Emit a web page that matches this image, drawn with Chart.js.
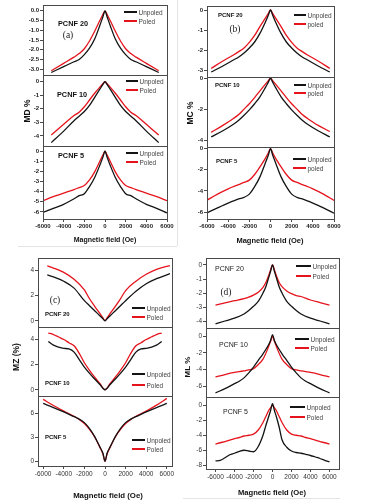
<!DOCTYPE html>
<html><head><meta charset="utf-8">
<script src="https://cdn.jsdelivr.net/npm/chart.js@4.4.0/dist/chart.umd.min.js"></script>
<style>
html,body{margin:0;padding:0;background:#fff;}
#root{position:relative;width:366px;height:504px;overflow:hidden;background:#fff;font-family:'Liberation Sans',Arial,sans-serif;}
.t{position:absolute;white-space:nowrap;line-height:1;}
.ln{position:absolute;}
canvas{position:absolute;}
</style></head><body><div id="root"></div>
<script>
// ---------- DATA ----------
const xTicks = [-6000,-4000,-2000,0,2000,4000,6000];

// Panel (a) MD %
const xA12 = [-5200,-4000,-3000,-2500,-2000,-1500,-1000,-500,-200,0,200,500,1000,1500,2000,2500,3000,4000,5200];
const a20Unpoled = [-3.17,-2.87,-2.62,-2.5,-2.25,-1.92,-1.45,-0.75,-0.3,0,-0.3,-0.75,-1.45,-1.92,-2.25,-2.5,-2.62,-2.87,-3.17];
const a20Poled   = [-3.08,-2.7,-2.38,-2.2,-1.95,-1.55,-1.05,-0.5,-0.18,0,-0.18,-0.5,-1.05,-1.55,-1.95,-2.2,-2.38,-2.7,-3.08];
const a10Unpoled = [-4.5,-3.65,-2.88,-2.55,-2.2,-1.75,-1.15,-0.55,-0.2,0,-0.2,-0.55,-1.15,-1.75,-2.2,-2.55,-2.88,-3.65,-4.5];
const a10Poled   = [-3.93,-3.15,-2.5,-2.25,-1.85,-1.35,-0.85,-0.4,-0.15,0,-0.15,-0.4,-0.85,-1.35,-1.85,-2.25,-2.5,-3.15,-3.93];
const xA3 = [-6000,-5000,-4000,-3000,-2500,-2000,-1500,-1000,-500,-200,0,200,500,1000,1500,2000,2500,3000,4000,5000,6000];
const a5Unpoled = [-6.05,-5.65,-5.25,-4.7,-4.4,-4.2,-3.5,-2.6,-1.4,-0.6,0,-0.6,-1.4,-2.6,-3.5,-4.2,-4.4,-4.7,-5.25,-5.65,-6.1];
const a5Poled   = [-4.9,-4.5,-4.15,-3.8,-3.6,-3.4,-2.85,-2.05,-1.0,-0.4,0,-0.4,-1.0,-2.05,-2.85,-3.4,-3.6,-3.8,-4.15,-4.5,-4.9];

// Panel (b) MC %
const xB12 = [-5600,-4500,-3500,-3000,-2500,-2000,-1500,-1000,-500,-200,0,200,500,1000,1500,2000,2500,3000,3500,4500,5600];
const b20Unpoled = [-3.1,-2.8,-2.5,-2.35,-2.15,-1.9,-1.6,-1.17,-0.62,-0.25,0,-0.25,-0.62,-1.17,-1.6,-1.9,-2.15,-2.35,-2.5,-2.8,-3.1];
const b20Poled   = [-2.92,-2.55,-2.25,-2.08,-1.9,-1.62,-1.27,-0.83,-0.42,-0.17,0,-0.17,-0.42,-0.83,-1.27,-1.62,-1.9,-2.08,-2.25,-2.55,-2.92];
const b10Unpoled = [-3.79,-3.4,-2.98,-2.72,-2.4,-2.05,-1.65,-1.2,-0.62,-0.25,0,-0.25,-0.62,-1.2,-1.65,-2.05,-2.4,-2.72,-2.98,-3.4,-3.79];
const b10Poled   = [-3.5,-3.05,-2.6,-2.35,-2.0,-1.65,-1.25,-0.82,-0.4,-0.16,0,-0.16,-0.4,-0.82,-1.25,-1.65,-2.0,-2.35,-2.6,-3.05,-3.45];
const xB3 = [-6000,-5000,-4000,-3000,-2500,-2000,-1500,-1000,-500,-200,0,200,500,1000,1500,2000,2500,3000,4000,5000,6000];
const b5Unpoled = [-6.07,-5.6,-5.15,-4.75,-4.6,-4.3,-3.6,-2.67,-1.4,-0.6,0,-0.6,-1.4,-2.67,-3.6,-4.3,-4.6,-4.75,-5.15,-5.6,-6.1];
const b5Poled   = [-4.87,-4.3,-3.8,-3.4,-3.2,-2.98,-2.45,-1.73,-0.95,-0.4,0,-0.4,-0.95,-1.73,-2.45,-2.98,-3.2,-3.4,-3.8,-4.3,-4.9];

// Panel (c) MZ (%)
const xC1 = [-5600,-5000,-4000,-3000,-2000,-1500,-1000,-500,-200,0,200,500,1000,1500,2000,3000,4000,5000,6300];
const c20Unpoled = [3.65,3.5,3.15,2.6,1.6,1.2,0.8,0.4,0.15,0,0.15,0.4,0.8,1.2,1.6,2.35,2.95,3.35,3.75];
const c20Poled   = [4.37,4.2,3.85,3.3,2.45,1.75,1.15,0.58,0.23,0,0.23,0.58,1.15,1.75,2.4,3.15,3.7,4.1,4.4];
const xC2 = [-5500,-5000,-4500,-4000,-3500,-3000,-2500,-2000,-1500,-1000,-500,0,500,1000,1500,2000,2500,3000,3500,4000,4500,5000,5500];
const c10Unpoled = [3.85,3.55,3.4,3.3,3.25,3.0,2.4,1.8,1.3,0.85,0.42,0,0.42,0.85,1.3,1.8,2.4,3.0,3.25,3.3,3.4,3.55,3.85];
const c10Poled   = [4.52,4.4,4.2,4.0,3.75,3.5,2.9,2.15,1.55,1.0,0.5,0,0.5,1.0,1.55,2.15,2.9,3.5,3.75,4.0,4.2,4.4,4.52];
const xC3 = [-6000,-5000,-4000,-3000,-2500,-2000,-1500,-1000,-500,-200,0,200,500,1000,1500,2000,2500,3000,4000,5000,6000];
const c5Unpoled = [7.26,6.75,6.2,5.6,5.3,4.85,4.1,3.1,1.8,1.0,0,1.0,1.8,3.1,4.1,4.85,5.3,5.6,6.2,6.75,7.26];
const c5Poled   = [7.77,7.0,6.3,5.65,5.25,4.75,4.0,3.05,1.75,0.9,0,0.9,1.75,3.05,4.0,4.75,5.25,5.65,6.3,7.05,7.9];

// Panel (d) ML %
const xD1 = [-6000,-5000,-4000,-3000,-2500,-2000,-1500,-1000,-700,-400,-200,0,200,400,700,1000,1500,2000,2500,3000,4000,5000,6000];
const d20Unpoled = [-4.21,-4.0,-3.8,-3.5,-3.25,-2.95,-2.6,-2.0,-1.55,-0.9,-0.45,0,-0.45,-0.9,-1.55,-2.0,-2.6,-2.95,-3.25,-3.5,-3.8,-4.0,-4.21];
const d20Poled   = [-2.86,-2.7,-2.55,-2.4,-2.3,-2.15,-1.95,-1.6,-1.25,-0.75,-0.35,0,-0.35,-0.75,-1.25,-1.55,-1.85,-2.05,-2.18,-2.25,-2.5,-2.68,-2.86];
const xD2 = [-6000,-5000,-4000,-3500,-3000,-2500,-2000,-1500,-1000,-500,-200,0,200,500,1000,1500,2000,2500,3000,3500,4000,5000,6000];
const d10Unpoled = [-6.8,-6.3,-5.7,-5.4,-5.0,-4.4,-3.7,-2.9,-2.1,-1.2,-0.5,0.2,-0.5,-1.2,-2.1,-2.9,-3.7,-4.4,-5.0,-5.4,-5.7,-6.3,-6.8];
const d10Poled   = [-4.88,-4.6,-4.35,-4.25,-4.15,-4.05,-3.9,-3.4,-2.75,-1.5,-0.6,0,-0.6,-1.5,-2.75,-3.4,-3.9,-4.05,-4.15,-4.25,-4.35,-4.6,-4.88];
const xD3 = [-6000,-5500,-5000,-4500,-4000,-3500,-3000,-2500,-2000,-1500,-1000,-700,-400,-200,0,200,400,700,1000,1500,2000,2500,3000,3500,4000,4500,5000,5500,6000];
const d5Unpoled = [-7.43,-7.35,-7.0,-6.6,-6.4,-6.15,-6.0,-6.1,-6.2,-5.5,-4.0,-2.7,-1.5,-0.7,0.2,-0.7,-1.5,-2.9,-4.6,-5.6,-6.1,-6.3,-6.4,-6.55,-6.7,-6.9,-7.1,-7.35,-7.56];
const d5Poled   = [-5.18,-5.0,-4.85,-4.65,-4.45,-4.3,-4.1,-4.0,-3.85,-3.3,-2.3,-1.5,-0.7,-0.35,0,-0.35,-0.7,-1.5,-2.3,-3.3,-3.85,-4.0,-4.1,-4.3,-4.45,-4.65,-4.85,-5.0,-5.18];

// y tick labels
const yTicksA1 = [0,-0.5,-1,-1.5,-2,-2.5,-3];
const yTicksA2 = [0,-1,-2,-3,-4];
const yTicksA3 = [0,-1,-2,-3,-4,-5,-6];
const yTicksB1 = [0,-1,-2,-3];
const yTicksB2 = [0,-2,-4];
const yTicksB3 = [0,-2,-4,-6];
const yTicksC12 = [0,2,4];
const yTicksC3 = [0,3,6];
const yTicksD1 = [0,-1,-2,-3,-4];
const yTicksD2 = [0,-2,-4,-6];
const yTicksD3 = [0,-2,-4,-6,-8];

const sampleNames = ['PCNF 20','PCNF 10','PCNF 5'];
const seriesNames = ['Unpoled','Poled'];

// ---------- LAYOUT ----------
const root = document.getElementById('root');
const FONT = "'Liberation Sans', Arial, sans-serif";
const BLACK = '#141414', RED = '#e5141c';

function txt(x,y,s,font,anchor,color,rot){
  const d=document.createElement('div'); d.className='t'; d.textContent=s;
  d.style.font=font; d.style.color=color||'#222';
  d.style.left=x+'px'; d.style.top=y+'px';
  const tx = anchor==='c'?'-50%':anchor==='r'?'-100%':'0';
  d.style.transform='translate('+tx+',-50%)'+(rot?' rotate('+rot+'deg)':'');
  root.appendChild(d);
}
function hline(x1,x2,y,color,th){
  const d=document.createElement('div'); d.className='ln';
  d.style.left=x1+'px'; d.style.top=(y-th/2)+'px'; d.style.width=(x2-x1)+'px'; d.style.height=th+'px'; d.style.background=color;
  root.appendChild(d);
}
function vline(x,y1,y2,color){
  const d=document.createElement('div'); d.className='ln';
  d.style.left=x+'px'; d.style.top=y1+'px'; d.style.width='1px'; d.style.height=(y2-y1)+'px'; d.style.background=color;
  root.appendChild(d);
}

const frameP = {id:'frame', afterDatasetsDraw(c){
  const a=c.chartArea, x=c.ctx; x.save(); x.strokeStyle='#4a4a4a'; x.lineWidth=1;
  x.strokeRect(Math.round(a.left)+0.5, Math.round(a.top)+0.5, Math.round(a.right-a.left), Math.round(a.bottom-a.top));
  x.restore();
}};

function sub(p){
  const YW=32, PT=8, PR=14, PB=p.bottom?0:8, XH=p.bottom?14:0;
  const w=YW+(p.R-p.L)+PR, h=PT+(p.B-p.T)+XH+PB;
  const cv=document.createElement('canvas'); cv.width=w; cv.height=h;
  cv.style.left=(p.L-YW)+'px'; cv.style.top=(p.T-PT)+'px'; cv.style.width=w+'px'; cv.style.height=h+'px';
  root.appendChild(cv);
  const tf = {family:'Liberation Sans', size:p.tsize, weight:p.tweight};
  const mk=(ys)=>p.x.map((x,i)=>({x:x,y:ys[i]}));
  new Chart(cv,{type:'line',
    data:{datasets:[
      {label:seriesNames[0],data:mk(p.u),borderColor:BLACK,borderWidth:1.3,pointRadius:0,fill:false,cubicInterpolationMode:'monotone'},
      {label:seriesNames[1],data:mk(p.pl),borderColor:RED,borderWidth:1.3,pointRadius:0,fill:false,cubicInterpolationMode:'monotone'}]},
    options:{responsive:false,animation:false,devicePixelRatio:1,
      layout:{padding:{top:PT,right:PR,bottom:PB,left:0}},
      plugins:{legend:{display:false},tooltip:{enabled:false}},
      scales:{
        x:{type:'linear',min:p.xmin,max:p.xmax,display:!!p.bottom,
           afterFit:s=>{s.height=XH;},
           afterBuildTicks:s=>{s.ticks=xTicks.map(v=>({value:v}));},
           ticks:{font:tf,color:p.tcolor,padding:1,maxRotation:0,autoSkip:false,callback:v=>String(v)},
           grid:{drawOnChartArea:false,drawTicks:true,tickLength:3,color:'#4a4a4a'},border:{display:false}},
        y:{type:'linear',min:p.ymin,max:p.ymax,
           afterFit:s=>{s.width=YW;},
           afterBuildTicks:s=>{s.ticks=p.yt.map(v=>({value:v}));},
           ticks:{font:tf,color:p.tcolor,padding:1,autoSkip:false,callback:v=>p.dec?Number(v).toFixed(1):String(v)},
           grid:{drawOnChartArea:false,drawTicks:true,tickLength:3,color:'#4a4a4a'},border:{display:false}}
      }},
    plugins:[frameP]});
}

// faint panel borders
vline(177,0,246,'#e4e4e4'); hline(18,177,246,'#e4e4e4',1);
hline(183,340,498,'#e4e4e4',1);

const AB = {tsize:6,tweight:'bold',tcolor:'#222'};
const CD = {tsize:6.5,tweight:'normal',tcolor:'#333'};
// Panel a
sub(Object.assign({L:43,R:167,T:5,B:75,xmin:-6000,xmax:6000,ymin:-3.3,ymax:0.3,yt:yTicksA1,dec:true,x:xA12,u:a20Unpoled,pl:a20Poled},AB));
sub(Object.assign({L:43,R:167,T:75,B:146,xmin:-6000,xmax:6000,ymin:-4.75,ymax:0.5,yt:yTicksA2,x:xA12,u:a10Unpoled,pl:a10Poled},AB));
sub(Object.assign({L:43,R:167,T:146,B:219,xmin:-6000,xmax:6000,ymin:-6.7,ymax:0.5,yt:yTicksA3,x:xA3,u:a5Unpoled,pl:a5Poled,bottom:true},AB));
// Panel b
sub(Object.assign({L:207,R:334,T:6,B:77,xmin:-6000,xmax:6000,ymin:-3.35,ymax:0.2,yt:yTicksB1,x:xB12,u:b20Unpoled,pl:b20Poled},AB));
sub(Object.assign({L:207,R:334,T:77,B:147,xmin:-6000,xmax:6000,ymin:-4.45,ymax:0.08,yt:yTicksB2,x:xB12,u:b10Unpoled,pl:b10Poled},AB));
sub(Object.assign({L:207,R:334,T:147,B:219,xmin:-6000,xmax:6000,ymin:-6.65,ymax:0.15,yt:yTicksB3,x:xB3,u:b5Unpoled,pl:b5Poled,bottom:true},AB));
// Panel c
sub(Object.assign({L:38,R:172,T:258,B:327,xmin:-6500,xmax:6500,ymin:-0.5,ymax:5,yt:yTicksC12,x:xC1,u:c20Unpoled,pl:c20Poled},CD));
sub(Object.assign({L:38,R:172,T:327,B:396,xmin:-6500,xmax:6500,ymin:-0.5,ymax:5,yt:yTicksC12,x:xC2,u:c10Unpoled,pl:c10Poled},CD));
sub(Object.assign({L:38,R:172,T:396,B:466,xmin:-6500,xmax:6500,ymin:-0.6,ymax:8.2,yt:yTicksC3,x:xC3,u:c5Unpoled,pl:c5Poled,bottom:true},CD));
// Panel d
sub(Object.assign({L:206,R:339,T:258,B:328,xmin:-7000,xmax:7000,ymin:-4.5,ymax:0.5,yt:yTicksD1,x:xD1,u:d20Unpoled,pl:d20Poled},CD));
sub(Object.assign({L:206,R:339,T:328,B:397,xmin:-7000,xmax:7000,ymin:-7.3,ymax:1.0,yt:yTicksD2,x:xD2,u:d10Unpoled,pl:d10Poled},CD));
sub(Object.assign({L:206,R:339,T:397,B:469,xmin:-7000,xmax:7000,ymin:-8.5,ymax:1.1,yt:yTicksD3,x:xD3,u:d5Unpoled,pl:d5Poled,bottom:true},CD));

// Axis titles
txt(27,111,'MD %','bold 8.5px '+FONT,'c','#111',-90);
txt(190,113,'MC %','bold 8.5px '+FONT,'c','#111',-90);
txt(16,357,'MZ (%)','bold 8.5px '+FONT,'c','#111',-90);
txt(187,367,'ML %','bold 8px '+FONT,'c','#111',-90);
txt(105,239,'Magnetic field (Oe)','bold 7px '+FONT,'c','#111');
txt(270,240,'Magnetic field (Oe)','bold 7.5px '+FONT,'c','#111');
txt(108,495,'Magnetic field (Oe)','bold 7.8px '+FONT,'c','#111');
txt(272,492,'Magnetic field (Oe)','bold 7.6px '+FONT,'c','#111');

// Panel letters
const SERIF="'Liberation Serif','Times New Roman',serif";
txt(68,35,'(a)','9.5px '+SERIF,'c','#222');
txt(235,29,'(b)','9.5px '+SERIF,'c','#222');
txt(55,300,'(c)','9.5px '+SERIF,'c','#222');
txt(226,292,'(d)','9.5px '+SERIF,'c','#222');

// Sample labels
const fa='bold 7.3px '+FONT, fb='bold 6px '+FONT, fc='bold 6px '+FONT, fd='7px '+FONT;
txt(58,23,sampleNames[0],fa,'l','#111'); txt(57,94,sampleNames[1],fa,'l','#111'); txt(58,155,sampleNames[2],fa,'l','#111');
txt(218,15,sampleNames[0],fb,'l','#111'); txt(215,85,sampleNames[1],fb,'l','#111'); txt(216,161,sampleNames[2],fb,'l','#111');
txt(45,314,sampleNames[0],fc,'l','#111'); txt(45,383,sampleNames[1],fc,'l','#111'); txt(45,437,sampleNames[2],fc,'l','#111');
txt(215,268,sampleNames[0],fd,'l','#222'); txt(219,344,sampleNames[1],fd,'l','#222'); txt(223,411,sampleNames[2],fd,'l','#222');

// Legends
function leg(x1,x2,y1,y2,l1,l2){
  const f='6.5px '+FONT;
  hline(x1,x2,y1,BLACK,1.6); txt(x2+1.5,y1,l1,f,'l','#444');
  hline(x1,x2,y2,RED,1.6); txt(x2+1.5,y2,l2,f,'l','#444');
}
leg(124,137,12,21,'Unpoled','Poled');
leg(126,138,81,90,'Unpoled','Poled');
leg(126,138,153,162,'Unpoled','Poled');
leg(294,306,15,24,'Unpoled','poled');
leg(294,306,85,93,'Unpoled','poled');
leg(293,306,159,168,'Unpoled','poled');
leg(132,145,308,317,'Unpoled','Poled');
leg(132,145,374,385,'Unpoled','Poled');
leg(132,145,440,449,'Unpoled','Poled');
leg(296,311,266,276,'Unpoled','Poled');
leg(295,309,339,348,'Unpoled','Poled');
leg(290,305,407,417,'Unpoled','Poled');
</script></body></html>
